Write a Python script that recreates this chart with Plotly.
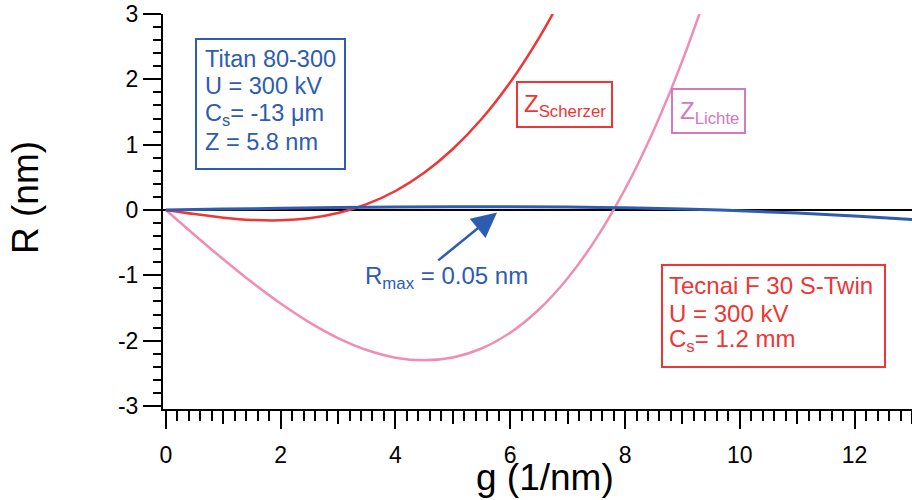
import plotly.graph_objects as go

# ---- data ----
g_scherzer = [0, 0.5, 1.0, 1.5, 2.0, 2.5, 3.0, 3.5, 4.0, 4.5, 5.0, 5.5, 6.0, 6.5, 6.8]
r_scherzer = [0, -0.063, -0.117, -0.152, -0.158, -0.126, -0.047, 0.089, 0.291, 0.570,
              0.934, 1.392, 1.955, 2.632, 3.097]

g_lichte = [0, 0.5, 1.0, 1.5, 2.0, 2.5, 3.0, 3.5, 4.0, 4.5, 5.0, 5.5, 6.0, 6.5, 7.0,
            7.5, 8.0, 8.5, 9.0, 9.5]
r_lichte = [0, -0.382, -0.754, -1.107, -1.432, -1.720, -1.960, -2.143, -2.260, -2.301,
            -2.258, -2.120, -1.878, -1.523, -1.044, -0.434, 0.319, 1.222, 2.286, 3.520]

g_titan = [0, 1, 2, 3, 4, 5, 6, 7, 8, 9, 10, 11, 12, 13]
r_titan = [0, 0.0134, 0.0259, 0.0367, 0.0448, 0.0494, 0.0496, 0.0445, 0.0332, 0.0148,
           -0.0115, -0.0466, -0.0914, -0.1468]

x_ticks = [0, 2, 4, 6, 8, 10, 12]
x_mid_ticks = [1, 3, 5, 7, 9, 11, 13]
y_ticks = [-3, -2, -1, 0, 1, 2, 3]
y_tick_text = ["-3", "-2", "-1", "0", "1", "2", "3"]

titan_lines = ["Titan 80-300", "U = 300 kV", "C<sub>s</sub>= -13 \u03bcm", "Z = 5.8 nm"]
tecnai_lines = ["Tecnai F 30 S-Twin", "U = 300 kV", "C<sub>s</sub>= 1.2 mm"]
rmax_text = "R<sub>max</sub> = 0.05 nm"
arrow_head = (5.77, -0.04)
arrow_tail = (4.72, -0.79)

# ---- style ----
BLUE = "#2d5cb0"
RED = "#f03535"
PINK = "#f08db5"
MAGENTA = "#d379bd"
FONT = "Liberation Sans, Arial, sans-serif"

W, H = 912, 500
L, R_, T, B = 163, 0, 14, 91
PW, PH = W - L - R_, H - T - B


def px(xp):
    return (xp - L) / PW


def py(yp):
    return (H - B - yp) / PH


fig = go.Figure()
fig.add_trace(go.Scatter(x=g_lichte, y=r_lichte, mode="lines", line=dict(color=PINK, width=2.5, shape="spline"),
                         showlegend=False, hoverinfo="skip"))
fig.add_trace(go.Scatter(x=g_scherzer, y=r_scherzer, mode="lines", line=dict(color=RED, width=2.5, shape="spline"),
                         showlegend=False, hoverinfo="skip"))
fig.add_trace(go.Scatter(x=g_titan, y=r_titan, mode="lines", line=dict(color=BLUE, width=3, shape="spline"),
                         showlegend=False, hoverinfo="skip"))
# helper trace for medium ticks axis
fig.add_trace(go.Scatter(x=[0], y=[0], xaxis="x2", mode="markers", marker=dict(opacity=0),
                         showlegend=False, hoverinfo="skip"))

xr = [-0.05, 13.0]
fig.update_layout(
    width=W, height=H,
    margin=dict(l=L, r=R_, t=T, b=B),
    paper_bgcolor="white", plot_bgcolor="white",
    font=dict(family=FONT, size=23, color="black"),
    xaxis=dict(range=xr, tickvals=x_ticks, ticks="outside", ticklen=18, tickwidth=2, tickcolor="black",
               showline=True, linecolor="black", linewidth=2, showgrid=False, zeroline=False,
               tickfont=dict(size=23, family=FONT, color="black"), ticklabelstandoff=6,
               minor=dict(dtick=0.2, tick0=0, ticks="outside", ticklen=10, tickwidth=2, tickcolor="black",
                          showgrid=False)),
    xaxis2=dict(range=xr, overlaying="x", anchor="y", side="bottom", tickvals=x_mid_ticks,
                ticks="outside", ticklen=14, tickwidth=2, tickcolor="black", showticklabels=False,
                showline=False, showgrid=False, zeroline=False),
    yaxis=dict(range=[-3.046, 3.0], tickvals=y_ticks, ticktext=y_tick_text, ticks="outside", ticklen=18,
               tickwidth=2, tickcolor="black", showline=True, linecolor="black", linewidth=2, showgrid=False,
               zeroline=True, zerolinecolor="black", zerolinewidth=2,
               tickfont=dict(size=23, family=FONT, color="black"),
               minor=dict(dtick=0.2, tick0=0, ticks="outside", ticklen=8, tickwidth=2, tickcolor="black",
                          showgrid=False)),
)

shapes = []
annotations = []


def box(x0, y0, x1, y1, color):
    shapes.append(dict(type="rect", xref="paper", yref="paper", x0=px(x0), x1=px(x1), y0=py(y1), y1=py(y0),
                       line=dict(color=color, width=2), fillcolor="white", layer="above"))


def text(s, x, y, color, size=23, xanchor="left", yanchor="middle"):
    annotations.append(dict(text=s, xref="paper", yref="paper", x=px(x), y=py(y), showarrow=False,
                            xanchor=xanchor, yanchor=yanchor, font=dict(size=size, color=color, family=FONT)))


box(196, 39, 345, 169, BLUE)
for s, yy in zip(titan_lines, [59, 86.5, 114, 141.5]):
    text(s, 203, yy, BLUE, size=23.5)

box(662, 265, 885, 367, RED)
for s, yy in zip(tecnai_lines, [285, 313, 340]):
    text(s, 667, yy, RED, size=24)

box(517, 82, 612, 127, RED)
text("Z<sub>Scherzer</sub>", 522, 105, RED, size=24)

box(672, 89, 745, 133, MAGENTA)
text("Z<sub>Lichte</sub>", 678, 112, MAGENTA, size=24)

text(rmax_text, 446, 277, BLUE, size=24, xanchor="center")

annotations.append(dict(x=arrow_head[0], y=arrow_head[1], ax=arrow_tail[0], ay=arrow_tail[1],
                        xref="x", yref="y", axref="x", ayref="y", text="", showarrow=True,
                        arrowhead=2, arrowsize=2, arrowwidth=2.5, arrowcolor=BLUE))

# axis titles
text("R (nm)", 25, 198, "black", size=37, xanchor="center")
annotations[-1]["textangle"] = -90
text("g (1/nm)", 545, 477, "black", size=37, xanchor="center")

fig.update_layout(shapes=shapes, annotations=annotations)
fig.write_html("out.html")
